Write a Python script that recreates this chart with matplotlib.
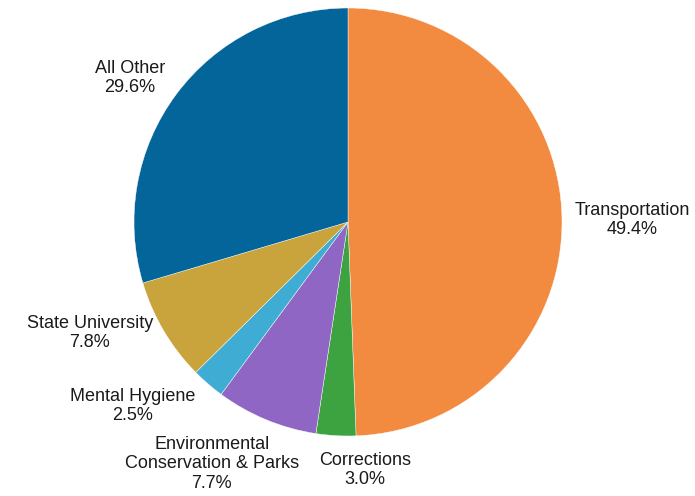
import numpy as np
import matplotlib
matplotlib.use("Agg")
import matplotlib.pyplot as plt

categories = ["Transportation", "Corrections", "Environmental\nConservation & Parks",
              "Mental Hygiene", "State University", "All Other"]
shares = [49.4, 3.0, 7.7, 2.5, 7.8, 29.6]

colors = ["#F28A40", "#3DA340", "#9066C4", "#3FADD3", "#C9A33B", "#04659A"]
# label placement: (radius, angle offset in degrees) from wedge middle
label_place = [(1.327, -0.7), (1.162, 7.1), (1.297, -6.9),
               (1.323, -8.6), (1.313, -7.3), (1.221, 3.3)]

plt.rcParams['font.family'] = ['Liberation Sans', 'DejaVu Sans']

fig = plt.figure(figsize=(6.95, 4.96), dpi=100)
ax = fig.add_axes([0, 0, 1, 1])

wedges, _ = ax.pie(shares, colors=colors, startangle=90, counterclock=False,
                   radius=1.0, wedgeprops=dict(edgecolor="white", linewidth=0.3))

total = sum(shares)
angle = 90.0
for name, val, (r, dth) in zip(categories, shares, label_place):
    span = 360.0 * val / total
    mid = angle - span / 2.0
    angle -= span
    a = np.radians(mid + dth)
    ax.text(r * np.cos(a), r * np.sin(a), "%s\n%.1f%%" % (name, val),
            ha="center", va="center", multialignment="center",
            fontsize=13, color="#1a1a1a", linespacing=1.2)

ax.set_xlim(-348 / 214.0, (695 - 348) / 214.0)
ax.set_ylim((222 - 496) / 214.0, 222 / 214.0)
ax.set_aspect("auto")
ax.axis("off")

fig.savefig("out.png", dpi=100)
